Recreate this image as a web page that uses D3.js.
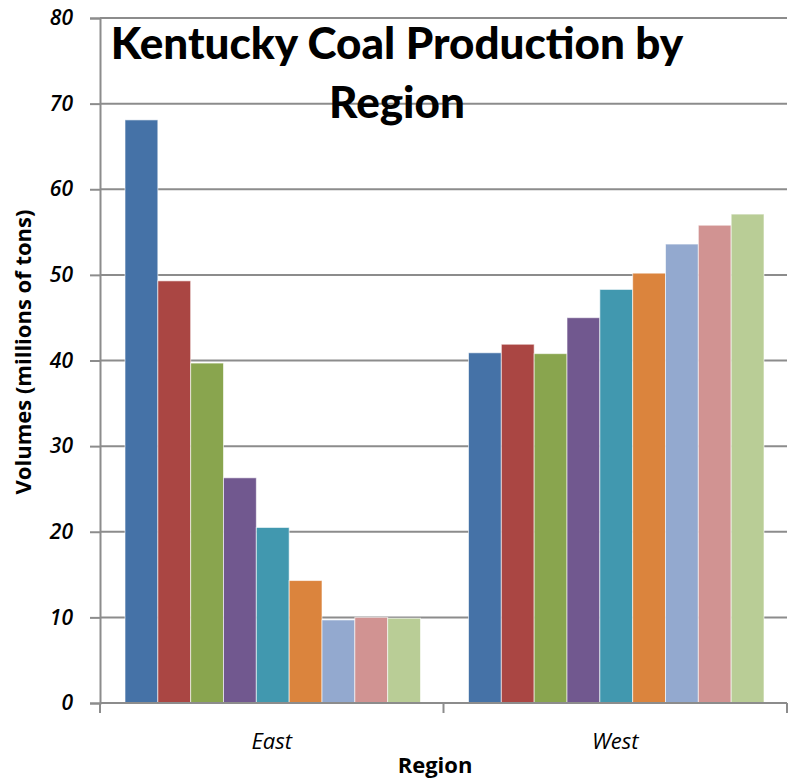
<!DOCTYPE html>
<html>
<head>
<meta charset="utf-8">
<script src="https://cdn.jsdelivr.net/npm/d3@7"></script>
<style>
  body { margin: 0; background: #fff; }
  svg { display: block; }
</style>
</head>
<body>
<div id="chart"></div>
<script>
// data
const regions = ['East', 'West']
const seriesNames = ['S1', 'S2', 'S3', 'S4', 'S5', 'S6', 'S7', 'S8', 'S9']
const eastValues = [68.1, 49.3, 39.7, 26.3, 20.5, 14.3, 9.7, 10.0, 9.9]
const westValues = [40.9, 41.9, 40.8, 45.0, 48.3, 50.2, 53.6, 55.8, 57.1]
const yTicks = [0, 10, 20, 30, 40, 50, 60, 70, 80]
const colors = ['#4572A7', '#AA4643', '#89A54E', '#71588F', '#4198AF', '#DB843D', '#93A9CF', '#D19392', '#B9CD96']

const width = 788, height = 779
const margin = {top: 18, right: 1, bottom: 76, left: 100}
const w = width - margin.left - margin.right
const h = height - margin.top - margin.bottom

const svg = d3.select('#chart')
  .append('svg')
    .attr('width', width)
    .attr('height', height)

const g = svg.append('g')
  .attr('transform', 'translate(' + margin.left + ',' + margin.top + ')')

const x0 = d3.scaleBand().domain(regions).range([0, w])
const x1 = d3.scaleBand().domain(seriesNames).range([25, x0.bandwidth() - 23])
const y = d3.scaleLinear().domain([0, 80]).range([h, 0])
const color = d3.scaleOrdinal().domain(seriesNames).range(colors)

// gridlines
g.selectAll('line.grid')
  .data(yTicks)
  .enter()
  .append('line')
    .attr('x1', 0)
    .attr('x2', w)
    .attr('y1', d => y(d))
    .attr('y2', d => y(d))
    .attr('stroke', '#8c8c8c')
    .attr('stroke-width', 2)

// y axis
const yAxis = g.append('g')
  .call(d3.axisLeft(y).tickValues(yTicks).tickSize(10).tickPadding(17))
yAxis.select('.domain').attr('stroke', '#8c8c8c').attr('stroke-width', 2)
yAxis.selectAll('.tick line').attr('stroke', '#8c8c8c').attr('stroke-width', 2)
yAxis.selectAll('text')
  .style('font-family', 'Open Sans, sans-serif')
  .style('font-style', 'italic')
  .style('font-weight', '600')
  .style('font-size', '21px')
  .attr('fill', '#000')

const table = regions.map((r, i) => ({
  region: r,
  values: seriesNames.map((s, j) => ({ series: s, value: i == 0 ? eastValues[j] : westValues[j] }))
}))

// bars
g.selectAll('g.region')
  .data(table)
  .enter()
  .append('g')
    .attr('transform', d => 'translate(' + x0(d.region) + ',0)')
  .selectAll('rect')
  .data(d => d.values)
  .enter()
  .append('rect')
    .attr('x', d => x1(d.series))
    .attr('y', d => y(d.value))
    .attr('width', x1.bandwidth())
    .attr('height', d => h - y(d.value))
    .attr('fill', d => color(d.series))
    .attr('stroke', 'rgba(255,255,255,0.6)')
    .attr('stroke-width', 1)

// x axis
const xAxisG = g.append('g')
  .attr('transform', 'translate(0,' + h + ')')
xAxisG.append('line')
  .attr('x1', 0).attr('x2', w)
  .attr('stroke', '#8c8c8c').attr('stroke-width', 2)
xAxisG.selectAll('line.tick')
  .data([0, x0.step(), w])
  .enter()
  .append('line')
    .attr('x1', d => d).attr('x2', d => d)
    .attr('y1', 0).attr('y2', 10)
    .attr('stroke', '#8c8c8c').attr('stroke-width', 2)
xAxisG.selectAll('text')
  .data(regions)
  .enter()
  .append('text')
    .attr('x', d => x0(d) + x0.bandwidth() / 2)
    .attr('y', 46)
    .attr('text-anchor', 'middle')
    .style('font-family', 'Open Sans, sans-serif')
    .style('font-style', 'italic')
    .style('font-size', '22px')
    .text(d => d)

// axis titles
svg.append('text')
  .attr('x', 435)
  .attr('y', 773)
  .attr('text-anchor', 'middle')
  .style('font-family', 'Open Sans, sans-serif')
  .style('font-weight', 'bold')
  .style('font-size', '22px')
  .text('Region')

svg.append('text')
  .attr('transform', 'translate(31,352)rotate(-90)')
  .attr('text-anchor', 'middle')
  .style('font-family', 'Open Sans, sans-serif')
  .style('font-weight', 'bold')
  .style('font-size', '22px')
  .text('Volumes (millions of tons)')

// title
const title = svg.append('text')
  .attr('text-anchor', 'middle')
  .style('font-family', 'Lato, sans-serif')
  .style('font-weight', '900')
  .style('font-size', '44px')
title.append('tspan').attr('x', 397).attr('y', 59).text('Kentucky Coal Production by')
title.append('tspan').attr('x', 397).attr('y', 118).text('Region')
</script>
</body>
</html>
